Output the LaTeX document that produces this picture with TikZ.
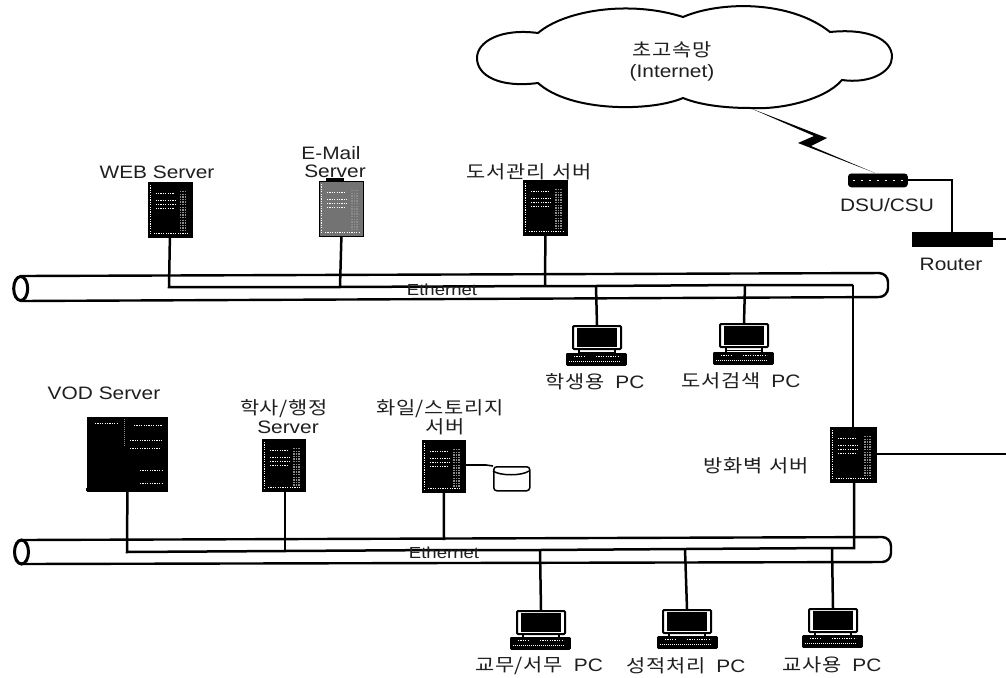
\documentclass[tikz,border=0pt]{standalone}
\usepackage{fontspec}
\setmainfont{Liberation Sans}[FakeStretch=1.16]
\newfontfamily\kr{Noto Sans CJK KR}[FakeStretch=1.16,LetterSpace=4]
\usetikzlibrary{calc}
\tikzset{
  wire/.style={draw=black,line width=2.5pt},
  thinwire/.style={draw=black,line width=1.6pt},
  pipe/.style={draw=black,line width=2.4pt},
  lab/.style={inner sep=0pt,text=black!88,font=\fontsize{18}{20}\selectfont,align=center},
  srv/.style={draw=black,line width=.8pt,fill=#1,minimum width=0pt,minimum height=0pt,inner sep=0pt,anchor=north west},
  srv/.default=black,
  dots/.style={draw=white,line width=.9pt,dash pattern=on 1.2pt off 1.2pt},
  strip/.style={draw=black!45,line width=1.6pt,dash pattern=on 1.3pt off 1.3pt},
  moni/.style={draw=black,line width=2pt,fill=white,rounded corners=1pt,inner sep=0pt,anchor=north west},
}
% name, x1, y1, width, height, fill
\newcommand{\srvbox}[6]{%
  \node[srv=#6,minimum width=#4pt,minimum height=#5pt] (#1) at (#2,#3) {};
  \begin{scope}[shift={(#1.north west)}]
    \draw[dots] (2.5,3) -- (2.5,#5-3);
    \draw[dots] (8,11) -- (26,11);
    \draw[dots] (8,18) -- (28,18);
    \draw[dots] (8,22) -- (28,22);
    \draw[dots] (8,26) -- (26,26);
    \draw[strip] (#4-11,9) -- (#4-11,#5-5);
    \draw[strip] (#4-8.5,9) -- (#4-8.5,#5-5);
    \draw[strip] (#4-6,9) -- (#4-6,#5-5);
    \draw[dots] (6,#5-4) -- (#4-4,#5-4);
  \end{scope}}
% name, monitor x, monitor y, base x, base y
\newcommand{\pcunit}[5]{%
  \node[moni,minimum width=48pt,minimum height=23pt] (#1) at (#2,#3) {};
  \fill[black] ($(#1.north west)+(5,3)$) rectangle ($(#1.south east)+(-5,-3)$);
  \draw[line width=1.4pt] ($(#1.south west)+(7,0)$) -- ++(0,5) ($(#1.south east)+(-7,0)$) -- ++(0,5)
     ($(#1.south west)+(7,2.5)$) -- ($(#1.south east)+(-7,2.5)$);
  \node[srv,minimum width=60pt,minimum height=12pt,rounded corners=1pt] (#1b) at (#4,#5) {};
  \draw[dots] ($(#1b.north west)+(8,3.5)$) -- ++(10,0);
  \draw[dots] ($(#1b.north west)+(30,3.5)$) -- ++(24,0);
  \draw[draw=white,line width=.5pt,dash pattern=on 1pt off 1pt] ($(#1b.north west)+(3,8.5)$) -- ++(52,0);}
\begin{document}
\begin{tikzpicture}[x=1pt,y=-1pt]
\useasboundingbox (0,0) rectangle (1006,677);
\fill[white] (0,0) rectangle (1006,677);

% cloud
\draw[line width=2pt,fill=white]
  (538,33) .. controls (565,10) and (630,0) .. (683,17)
  .. controls (720,1) and (790,0) .. (830,32)
  .. controls (870,28) and (892,40) .. (892,57)
  .. controls (892,72) and (870,84) .. (842,80)
  .. controls (825,100) and (780,110) .. (750,108)
  .. controls (725,108) and (700,105) .. (683,98)
  .. controls (650,112) and (570,112) .. (538,83)
  .. controls (500,88) and (477,76) .. (477,58)
  .. controls (477,42) and (500,28) .. (538,33) -- cycle;
\node[lab] (cloudt) at (672,50) {{\kr 초고속망}};
\node[lab] (cloudi) at (672,73) {(Internet)};

% pipes
\draw[pipe,rounded corners=9pt] (21,276) -- (888,273) -- (888,297) -- (21,301);
\draw[line width=3pt] (20.7,288.5) ellipse [x radius=7,y radius=12];
\draw[pipe,rounded corners=9pt] (21,540) -- (891,537) -- (891,562) -- (21,564);
\draw[line width=3pt] (21.5,552) ellipse [x radius=7,y radius=12];

% top servers
\srvbox{web}{147.5}{182}{44}{55}{black}
\srvbox{mail}{319}{181}{44}{55}{black!55}
\srvbox{lib}{523}{180}{44}{55}{black}
\fill[black] (326,178) rectangle (344,182);
\node[lab] (webl) at (157,172) {WEB Server};
\node[lab] (maill) at (331,153) {E-Mail};
\node[lab] (mail2) at (335,171) {Server};
\node[lab] (libl) at (529,172) {{\kr 도서관리\hspace{2pt} 서버}};

% lower servers
\node[srv,minimum width=80pt,minimum height=74pt] (vod) at (87,417) {};
\draw[draw=black!45,line width=.8pt,dash pattern=on 1pt off 1pt] (124,419) -- (124,446);
\foreach \yy/\xa/\xb in {423/95/118,425/134/162,440/130/162,448/130/160,470/140/162,483/140/162}
  \draw[dots] (\xa,\yy) -- (\xb,\yy);
\fill[black] (86,488) rectangle (168,491);
\srvbox{hak}{262}{439}{43}{52}{black}
\srvbox{file}{422}{440}{43}{52}{black}
\srvbox{fw}{830}{427}{46}{55}{black}
\node[lab] (vodl) at (104,393) {VOD Server};
\node[lab] (hakl) at (284,409) {{\kr 학사/행정}};
\node[lab] (hak2) at (288,427) {Server};
\node[lab] (filel) at (440,409) {{\kr 화일/스토리지}};
\node[lab] (file2) at (445,427) {{\kr 서버}};
\node[lab] (fwl) at (756,466) {{\kr 방화벽\hspace{2pt} 서버}};

% disk
\node[draw=black,line width=1.5pt,fill=white,rounded corners=3pt,minimum width=36pt,minimum height=24pt,inner sep=0pt,anchor=north west] (disk) at (493,466) {};
\draw[line width=1.5pt] (493,471) .. controls (500,476) and (522,476) .. (529,471);
\coordinate (dk) at (486,465);
\draw[thinwire] (file.east |- dk) -- (dk) -- (disk.north west);

% top wiring
\coordinate (ta) at (169,287);
\coordinate (tb) at (340,287);
\coordinate (tc) at (545,286);
\coordinate (td) at (596,286);
\coordinate (te) at (745,285);
\coordinate (tf) at (853,285);
\draw[wire] (web.south) -- (ta) -- (tb) -- (tc) -- (td) -- (te) -- (tf);
\draw[wire] (mail.south) -- (tb);
\draw[wire] (lib.south) -- (tc);
\draw[wire] (tf) -- (tf |- fw.north);
\node[lab,font=\fontsize{16}{18}\selectfont] (eth1) at (442,289.5) {Ethernet};

% bottom wiring
\coordinate (ba) at (127,552);
\coordinate (bb) at (285,551);
\coordinate (bc) at (444,550);
\coordinate (bd) at (540,550);
\coordinate (be) at (685,549);
\coordinate (bf) at (832,548);
\coordinate (bg) at (854,548);
\draw[wire] (vod.south) -- (ba) -- (bb) -- (bc) -- (bd) -- (be) -- (bf) -- (bg) -- (bg |- fw.south);
\draw[wire] (bb |- hak.south) -- (bb);
\draw[wire] (file.south) -- (bc |- 0,540);
\node[lab,font=\fontsize{16}{18}\selectfont] (eth2) at (444,553) {Ethernet};

% PCs
\pcunit{pa}{572}{325}{566}{353}
\pcunit{pb}{719}{323}{713}{352}
\pcunit{pc}{516}{610}{510}{637}
\pcunit{pd}{662}{609}{657}{636}
\pcunit{pe}{808}{608}{802}{635}
\draw[wire] (td) -- (pa.north);
\draw[wire] (te) -- (pb.north);
\draw[wire] (bd) -- (pc.north);
\draw[wire] (be) -- (pd.north);
\draw[wire] (bf) -- (pe.north);
\node[lab] (pal) at (595,382) {{\kr 학생용}\hspace{5pt} PC};
\node[lab] (pbl) at (741,381) {{\kr 도서검색}\hspace{5pt} PC};
\node[lab] (pcl) at (539,666) {{\kr 교무/서무}\hspace{5pt} PC};
\node[lab] (pdl) at (686,666) {{\kr 성적처리}\hspace{5pt} PC};
\node[lab] (pel) at (832,665) {{\kr 교사용}\hspace{5pt} PC};

% firewall outlet
\coordinate (fwout) at (1006,454);
\draw[thinwire] (fw.east |- fwout) -- (fwout);

% router, DSU
\node[srv,minimum width=80pt,minimum height=14pt] (router) at (912,232) {};
\node[srv,minimum width=59pt,minimum height=13pt,rounded corners=3pt] (dsu) at (848,173.5) {};
\draw[dots,dash pattern=on 2pt off 6pt] ($(dsu.west)+(5,0)$) -- ($(dsu.east)+(-4,0)$);
\coordinate (rt) at (952,232);
\coordinate (rout) at (1006,239);
\draw[wire,line width=2pt] (dsu.east) -- (dsu.east -| rt) -- (rt);
\draw[thinwire] (router.east |- rout) -- (rout);
\node[lab] (dsul) at (887,205) {DSU/CSU};
\node[lab] (rl) at (951,264) {Router};

% lightning
\coordinate (cf) at (750,108);
\coordinate (df) at (875,173);
\fill[black] (cf) -- (827,138) -- (811,146) -- (df) -- (798,143) -- (814,136) -- cycle;
\end{tikzpicture}
\end{document}
